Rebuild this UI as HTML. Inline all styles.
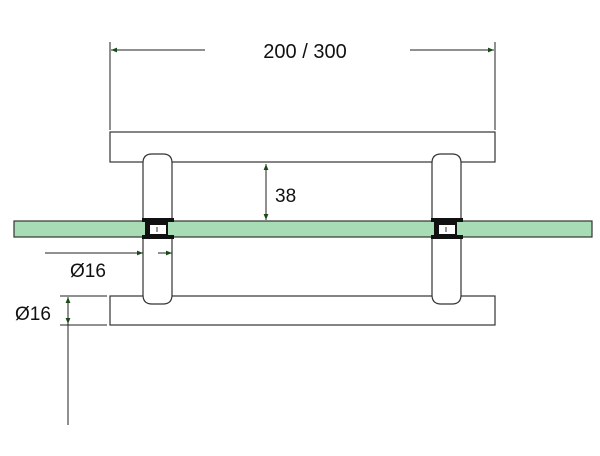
<!DOCTYPE html>
<html><head><style>body{margin:0;background:#fff}svg{display:block}text{font-family:"Liberation Sans",sans-serif;fill:#111}</style></head>
<body>
<svg width="600" height="456" viewBox="0 0 600 456" xmlns="http://www.w3.org/2000/svg">
<defs>
<marker id="a" viewBox="0 0 10 10" refX="10" refY="5" markerWidth="10" markerHeight="6" orient="auto-start-reverse"><path d="M0,1 L10,5 L0,9z" fill="#1a4a1a"/></marker>
</defs>
<g stroke="#333" stroke-width="1.2" fill="#fff">
<rect x="110" y="132" width="385" height="30"/>
<rect x="110" y="296" width="385" height="29"/>
<path d="M143,220 V163 Q143,154 152,154 H163 Q172,154 172,163 V220"/>
<path d="M143,238 V295 Q143,304 152,304 H163 Q172,304 172,295 V238"/>
<path d="M432,220 V163 Q432,154 441,154 H452 Q461,154 461,163 V220"/>
<path d="M432,238 V295 Q432,304 441,304 H452 Q461,304 461,295 V238"/>
<rect x="14" y="221" width="578" height="16" fill="#a8dcb4"/>
</g>
<g>
<rect x="142" y="218" width="32" height="4" fill="#111"/>
<rect x="142" y="235" width="32" height="4" fill="#111"/>
<rect x="145" y="221" width="23" height="15" fill="#111"/>
<rect x="150" y="225" width="16" height="9" fill="#fff"/>
<line x1="157" y1="227" x2="157" y2="232" stroke="#333"/>
<rect x="431" y="218" width="32" height="4" fill="#111"/>
<rect x="431" y="235" width="32" height="4" fill="#111"/>
<rect x="434" y="221" width="23" height="15" fill="#111"/>
<rect x="439" y="225" width="16" height="9" fill="#fff"/>
<line x1="446" y1="227" x2="446" y2="232" stroke="#333"/>
</g>
<g stroke="#222" stroke-width="1" fill="none">
<line x1="110" y1="42" x2="110" y2="130"/>
<line x1="495" y1="42" x2="495" y2="130"/>
<line x1="205" y1="50" x2="111" y2="50" marker-end="url(#a)"/>
<line x1="410" y1="50" x2="494" y2="50" marker-end="url(#a)"/>
<line x1="266" y1="164" x2="266" y2="220" marker-start="url(#a)" marker-end="url(#a)"/>
<line x1="45" y1="253" x2="143" y2="253" marker-end="url(#a)"/>
<line x1="158" y1="253" x2="172" y2="253" marker-end="url(#a)"/>
<line x1="60" y1="296" x2="107" y2="296"/>
<line x1="60" y1="325" x2="107" y2="325"/>
<line x1="68" y1="425" x2="68" y2="297" marker-end="url(#a)"/>
<line x1="68" y1="310" x2="68" y2="324" marker-end="url(#a)"/>
</g>
<text x="305" y="58" font-size="20" text-anchor="middle">200 / 300</text>
<text x="275" y="202" font-size="19">38</text>
<text x="70" y="277" font-size="19">Ø16</text>
<text x="15" y="320" font-size="19">Ø16</text>
</svg>
</body></html>
